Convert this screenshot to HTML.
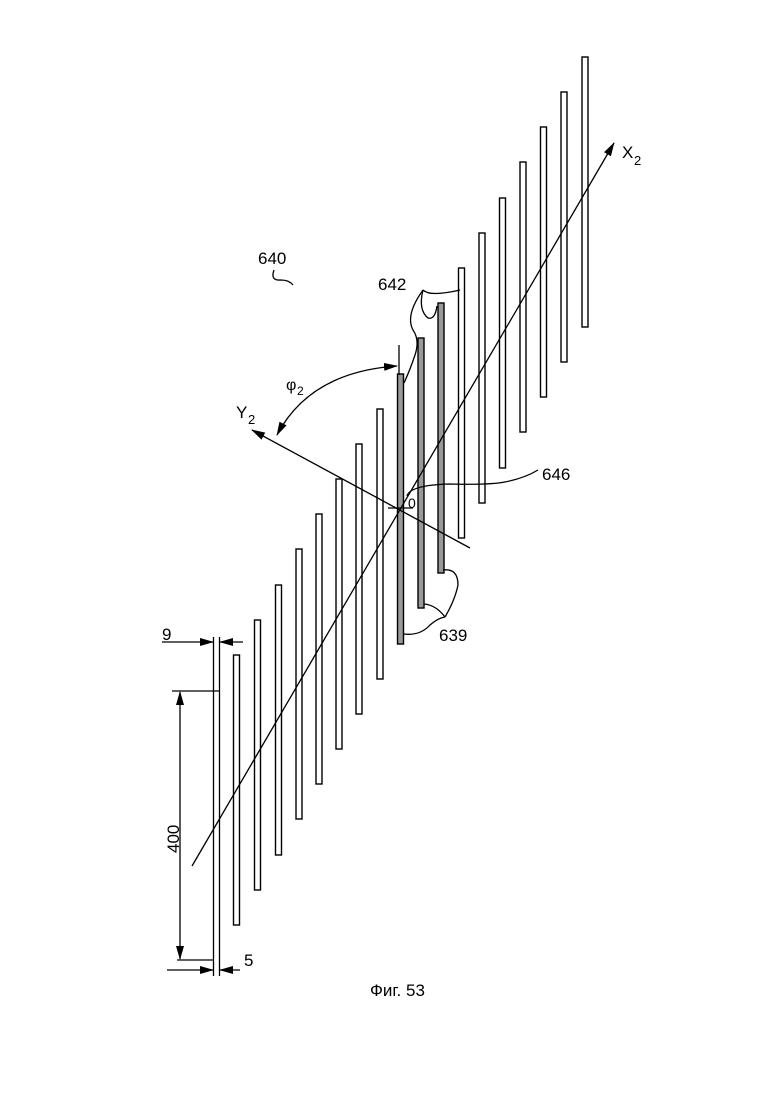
<!DOCTYPE html>
<html><head><meta charset="utf-8"><style>
html,body{margin:0;padding:0;background:#fff;}
svg{display:block}
text{font-family:"Liberation Sans",sans-serif;fill:#000}
</style></head><body>
<svg width="780" height="1103" viewBox="0 0 780 1103" xmlns="http://www.w3.org/2000/svg">
<defs>
<marker id="a" markerWidth="14" markerHeight="8" refX="13" refY="4" orient="auto-start-reverse" markerUnits="userSpaceOnUse"><path d="M0,0 L14,4 L0,8 Z" fill="#000"/></marker>
</defs>
<g fill="#fff" stroke="#000" stroke-width="1.4">
<rect x="233.5" y="655" width="6" height="270"/>
<rect x="254.5" y="620" width="6" height="270"/>
<rect x="275.5" y="585" width="6" height="270"/>
<rect x="296" y="549" width="6" height="270"/>
<rect x="316" y="514" width="6" height="270"/>
<rect x="336" y="479" width="6" height="270"/>
<rect x="356" y="444" width="6" height="270"/>
<rect x="377" y="409" width="6" height="270"/>
<rect x="397.5" y="374" width="6" height="270" fill="#999"/>
<rect x="418" y="338" width="6" height="270" fill="#999"/>
<rect x="438" y="303" width="6" height="270" fill="#999"/>
<rect x="458.5" y="268" width="6" height="270"/>
<rect x="479" y="233" width="6" height="270"/>
<rect x="499.5" y="198" width="6" height="270"/>
<rect x="520" y="162" width="6" height="270"/>
<rect x="540.5" y="127" width="6" height="270"/>
<rect x="561" y="92" width="6" height="270"/>
<rect x="582" y="57" width="6" height="270"/>
</g>
<g stroke="#000" stroke-width="1.3" fill="none">
<line x1="213.5" y1="637" x2="213.5" y2="976"/>
<line x1="219.5" y1="637" x2="219.5" y2="976"/>
<line x1="162" y1="642" x2="213" y2="642" marker-end="url(#a)"/>
<line x1="243" y1="642" x2="220" y2="642" marker-end="url(#a)"/>
<line x1="167" y1="970" x2="213" y2="970" marker-end="url(#a)"/>
<line x1="240" y1="970" x2="220" y2="970" marker-end="url(#a)"/>
<line x1="172" y1="691" x2="219" y2="691"/>
<line x1="177" y1="960" x2="214" y2="960"/>
<line x1="180" y1="692" x2="180" y2="959" marker-start="url(#a)" marker-end="url(#a)"/>
<line x1="192" y1="866" x2="614" y2="143" marker-end="url(#a)"/>
<line x1="470" y1="548" x2="252" y2="430" marker-end="url(#a)"/>
<line x1="388" y1="508" x2="413" y2="508"/>
<line x1="399" y1="345" x2="399" y2="375"/>
<path d="M277,435 Q310,372 397,366" marker-start="url(#a)" marker-end="url(#a)"/>
<path d="M274,270 Q270,281 281,280 Q289,280 293,285"/>
<path d="M423,290 Q430,297 460,290"/>
<path d="M423,290 Q405,315 413,330 Q420,340 415,355 Q410,370 404,383"/>
<path d="M423,290 Q418,310 428,318 Q435,320 437,306"/>
<path d="M407,496 Q410,485 450,484 Q490,485 505,482 Q525,478 538,470"/>
<path d="M443,570 Q458,568 458,585 Q455,600 445,617"/>
<path d="M424,604 Q436,605 445,617"/>
<path d="M404,634 Q420,636 430,625 Q438,618 445,617"/>
</g>
<g font-size="17">
<text x="258" y="264">640</text>
<text x="378" y="290">642</text>
<text x="542" y="480">646</text>
<text x="439" y="641">639</text>
<text x="162" y="640">9</text>
<text x="244" y="966">5</text>
<text x="408" y="508" font-size="14">0</text>
<text x="179" y="853" transform="rotate(-90 179 853)">400</text>
<text x="236" y="418">Y</text><text x="248" y="424" font-size="13">2</text>
<text x="622" y="158">X</text><text x="634" y="165" font-size="13">2</text>
<text x="286" y="390" font-family="DejaVu Sans,sans-serif" font-size="16">φ</text><text x="297" y="395" font-size="12">2</text>
<text x="370" y="996">Фиг. 53</text>
</g>
</svg>
</body></html>
